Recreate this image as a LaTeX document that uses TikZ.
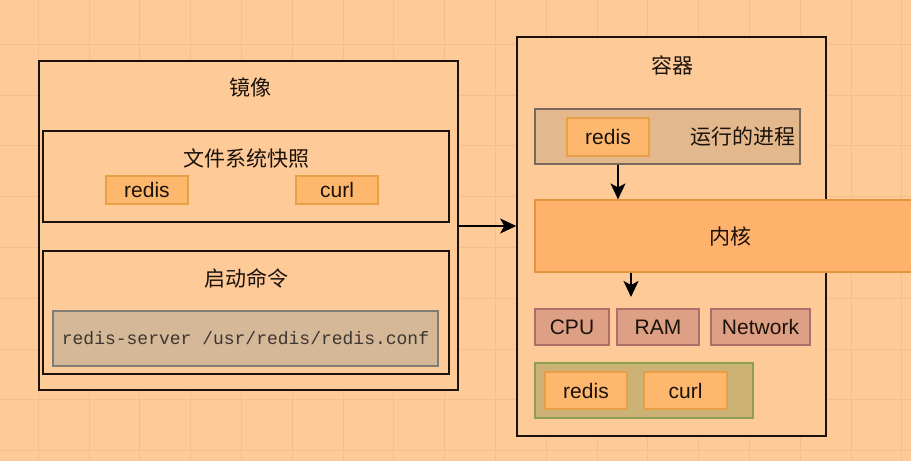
\documentclass[tikz,border=0pt]{standalone}
\usepackage{fontspec}
\setmainfont{Liberation Sans}
\setmonofont{Liberation Mono}
\newfontfamily\cjk{Noto Sans CJK SC}
\usetikzlibrary{arrows.meta, positioning, calc}
\definecolor{canvasBG}{RGB}{254,202,152}
\definecolor{gridLine}{RGB}{245,190,142}
\definecolor{frameDark}{RGB}{28,18,12}
\definecolor{pkgFill}{RGB}{253,184,110}
\definecolor{pkgEdge}{RGB}{232,160,72}
\definecolor{cmdFill}{RGB}{212,184,152}
\definecolor{cmdEdge}{RGB}{130,125,115}
\definecolor{procFill}{RGB}{226,184,140}
\definecolor{procEdge}{RGB}{120,105,90}
\definecolor{kernFill}{RGB}{255,178,108}
\definecolor{kernEdge}{RGB}{226,148,60}
\definecolor{hwFill}{RGB}{222,160,132}
\definecolor{hwEdge}{RGB}{176,110,105}
\definecolor{fsFill}{RGB}{205,178,118}
\definecolor{fsEdge}{RGB}{140,158,82}

\begin{document}
\begin{tikzpicture}[
    x=1pt, y=-1pt,
    frame/.style={draw=frameDark, fill=canvasBG, line width=1.6pt, inner sep=0pt, minimum width=#1},
    pkg/.style={draw=pkgEdge, fill=pkgFill, line width=1.2pt, inner sep=0pt, minimum width=#1,
                font=\fontsize{21}{25}\selectfont, text=frameDark},
    hw/.style={draw=hwEdge, fill=hwFill, line width=1.2pt, inner sep=0pt, minimum width=#1,
               minimum height=36pt, font=\fontsize{21}{25}\selectfont, text=frameDark},
    ttl/.style={font=\cjk\fontsize{21}{25}\selectfont, text=frameDark, inner sep=0pt},
    arr/.style={-{Stealth[length=16pt, width=15pt, inset=4pt]}, line width=1.5pt, draw=black}
  ]
    \useasboundingbox (0,0) rectangle (911,461);
    \fill[canvasBG] (0,0) rectangle (911,461);
    \foreach \gx in {0,...,17} \draw[gridLine, line width=0.6pt] (38+\gx*50.8,0) -- (38+\gx*50.8,461);
    \foreach \gy in {0,...,9} \draw[gridLine, line width=0.6pt] (0,44+\gy*50.8-50.8) -- (911,44+\gy*50.8-50.8);

    % image
    \node[frame=419pt, minimum height=329pt] (img) at (248.5,225.5) {};
    \node[ttl] (imgT) at (250,87) {镜像};

    % file system snapshot
    \node[frame=406pt, minimum height=91pt] (snap) at (246,176.5) {};
    \node[ttl] (snapT) at (246,158) {文件系统快照};
    \node[pkg=82pt, minimum height=28pt] (snapRedis) at (147,190) {redis};
    \node[pkg=82pt, minimum height=28pt] (snapCurl) at (337,190) {curl};

    % start command
    \node[frame=406pt, minimum height=123pt] (cmd) at (246,312.5) {};
    \node[ttl] (cmdT) at (246,278) {启动命令};
    \node[draw=cmdEdge, fill=cmdFill, line width=1.2pt, minimum width=385pt, minimum height=55pt,
          inner sep=0pt, font=\ttfamily\fontsize{18}{22}\selectfont, text=frameDark!85]
          (cmdLine) at (245.5,338.5) {redis-server /usr/redis/redis.conf};

    % container
    \node[frame=309pt, minimum height=399pt] (ctr) at (671.5,236.5) {};
    \node[ttl] (ctrT) at (672,65) {容器};

    % running process
    \node[draw=procEdge, fill=procFill, line width=1.2pt, inner sep=0pt, minimum width=265pt,
          minimum height=55pt] (proc) at (667.5,136.5) {};
    \node[pkg=82pt, minimum height=38pt] (procRedis) at (608,137) {redis};
    \node[ttl] (procT) at (743,137) {运行的进程};

    % kernel
    \node[draw=kernEdge, fill=kernFill, line width=1.2pt, inner sep=0pt, minimum width=390pt,
          minimum height=72pt, font=\cjk\fontsize{21}{25}\selectfont, text=frameDark]
          (kern) at (730,236) {内核};

    % hardware
    \node[hw=74pt] (cpu) at (572,327) {CPU};
    \node[hw=82pt] (ram) at (658,327) {RAM};
    \node[hw=99pt] (net) at (760.5,327) {Network};

    % file system
    \node[draw=fsEdge, fill=fsFill, line width=1.2pt, inner sep=0pt, minimum width=218pt,
          minimum height=55pt] (fs) at (644,390.5) {};
    \node[pkg=82pt, minimum height=37pt] (fsRedis) at (586,390.5) {redis};
    \node[pkg=83pt, minimum height=37pt] (fsCurl) at (685.5,390.5) {curl};

    % arrows
    \draw[arr] (img.east |- 0,226) -- (ctr.west |- 0,226);
    \draw[arr] ([xshift=-49.5pt]proc.south) -- ([xshift=-49.5pt]proc.south |- kern.north);
    \coordinate (kernTip) at (631,297);
    \draw[arr] (kern.south -| kernTip) -- (kernTip);
  \end{tikzpicture}
\end{document}
